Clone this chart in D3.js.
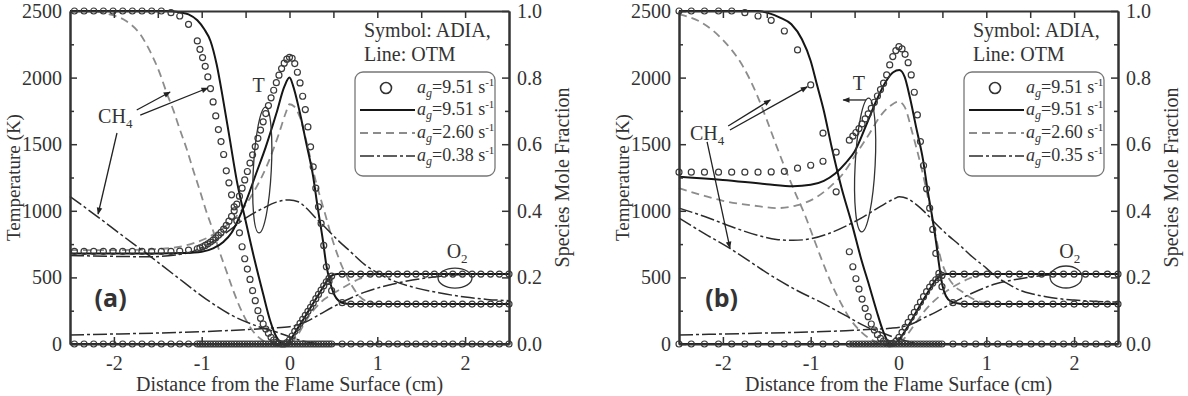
<!DOCTYPE html>
<html>
<head>
<meta charset="utf-8">
<script src="https://cdn.jsdelivr.net/npm/d3@7"></script>
<style>
body { margin: 0; background: #fff; }
svg text { fill: #333; }
</style>
</head>
<body>
<svg id="chart" width="1188" height="396" font-family="'Liberation Serif', 'Times New Roman', serif"></svg>
<script>
// ---- data, panel (a) ----
// ADIA symbols: shared x grid (cm), CH4 / O2 mole fraction, T (K)
var gridA = [-2.45,-2.34,-2.23,-2.12,-2.01,-1.9,-1.79,-1.68,-1.57,-1.46,-1.35,-1.25,-1.15,
  -1.05,-1.02,-0.99,-0.96,-0.93,-0.9,-0.87,-0.84,-0.81,-0.78,-0.75,-0.72,-0.69,-0.66,-0.63,-0.6,
  -0.57,-0.54,-0.51,-0.48,-0.45,-0.42,-0.39,-0.36,-0.33,-0.3,-0.27,-0.24,-0.21,-0.18,-0.15,-0.12,
  -0.09,-0.06,-0.03,0,0.03,0.06,0.09,0.12,0.15,0.18,0.21,0.24,0.27,0.3,0.33,0.36,0.39,0.42,0.45,0.48,
  0.6,0.7,0.81,0.92,1.02,1.13,1.23,1.34,1.44,1.55,1.65,1.76,1.86,1.97,2.08,2.18,2.29,2.39,2.5];
var ch4AdiaA = [1,1,1,1,1,1,1,1,1,1,0.995,0.985,0.96,
  0.91,0.885,0.86,0.834,0.802,0.767,0.727,0.685,0.644,0.608,0.569,0.52,0.484,0.448,0.412,0.37,
  0.334,0.292,0.256,0.225,0.194,0.16,0.13,0.1,0.077,0.06,0.045,0.032,0.02,0.012,0.005,0.002,
  0,0,0,0,0,0,0,0,0,0,0,0,0,0,0,0,0,0,0,0,
  0,0,0,0,0,0,0,0,0,0,0,0,0,0,0,0,0,0,0];
var tAdiaA = [695,695,695,695,695,695,695,695,695,695,695,698,705,
  715,722,730,740,752,765,780,797,816,838,862,890,922,958,1000,1050,
  1110,1170,1232,1295,1358,1420,1482,1544,1606,1668,1730,1790,1848,1905,1962,2018,
  2068,2108,2138,2152,2145,2105,2040,1960,1860,1760,1630,1480,1330,1170,1030,905,740,580,470,400,
  310,300,300,300,300,300,300,300,300,300,300,300,300,300,300,300,300,300,300];
var o2AdiaA = [0,0,0,0,0,0,0,0,0,0,0,0,0,
  0,0,0,0,0,0,0,0,0,0,0,0,0,0,0,0,
  0,0,0,0,0,0,0,0,0,0,0,0,0,0,0,0,
  0,0,0.004,0.012,0.024,0.038,0.05,0.062,0.074,0.086,0.098,0.11,0.123,0.136,0.149,0.162,0.175,0.187,0.197,0.204,
  0.21,0.21,0.21,0.21,0.21,0.21,0.21,0.21,0.21,0.21,0.21,0.21,0.21,0.21,0.21,0.21,0.21,0.21,0.21];

// OTM lines [x cm, value]
var ch4SolidA = [[-2.5,1],[-1.4,1],[-1.25,0.996],[-1.15,0.99],[-1.05,0.972],[-0.97,0.945],[-0.9,0.91],[-0.83,0.84],[-0.76,0.74],[-0.68,0.615],[-0.6,0.49],[-0.5,0.37],[-0.4,0.255],[-0.3,0.15],[-0.22,0.07],[-0.15,0.022],[-0.1,0.005],[-0.05,0],[2.5,0]];
var ch4DashA = [[-2.5,1],[-2.2,0.998],[-2.05,0.99],[-1.86,0.97],[-1.7,0.93],[-1.59,0.88],[-1.48,0.815],[-1.4,0.755],[-1.32,0.7],[-1.25,0.645],[-1.17,0.585],[-1.1,0.525],[-1.02,0.46],[-0.95,0.4],[-0.87,0.34],[-0.8,0.28],[-0.72,0.22],[-0.64,0.16],[-0.53,0.09],[-0.42,0.04],[-0.3,0.01],[-0.2,0],[2.5,0]];
var ch4DashDotA = [[-2.5,0.443],[-2.2,0.385],[-1.9,0.325],[-1.63,0.272],[-1.3,0.205],[-0.95,0.135],[-0.65,0.085],[-0.35,0.052],[-0.15,0.036],[0,0.022],[0.15,0.009],[0.3,0.002],[0.45,0],[2.5,0]];
var tSolidA = [[-2.5,680],[-1.5,680],[-1.2,683],[-1.0,693],[-0.87,718],[-0.75,768],[-0.66,835],[-0.59,925],[-0.49,1080],[-0.38,1280],[-0.27,1480],[-0.15,1730],[-0.06,1930],[0,2000],[0.04,1940],[0.11,1760],[0.19,1510],[0.27,1255],[0.32,1030],[0.38,780],[0.42,590],[0.46,470],[0.5,385],[0.57,320],[0.65,303],[0.8,300],[2.5,300]];
var tDashA = [[-2.5,705],[-2.0,705],[-1.6,710],[-1.3,725],[-1.1,755],[-0.9,810],[-0.7,900],[-0.55,1000],[-0.4,1150],[-0.25,1350],[-0.12,1580],[-0.04,1740],[0,1800],[0.05,1785],[0.12,1700],[0.2,1500],[0.3,1220],[0.4,990],[0.5,760],[0.6,580],[0.7,450],[0.8,355],[0.9,315],[1.0,303],[1.2,300],[2.5,300]];
var tDashDotA = [[-2.5,665],[-2.0,658],[-1.6,655],[-1.3,668],[-1.1,695],[-0.87,770],[-0.7,845],[-0.5,945],[-0.3,1020],[-0.15,1065],[0,1082],[0.1,1068],[0.2,1015],[0.3,945],[0.4,880],[0.55,780],[0.7,690],[0.85,600],[1.0,535],[1.2,470],[1.4,428],[1.7,385],[2.0,352],[2.25,335],[2.5,325]];
var o2SolidA = [[-2.5,0],[-0.06,0],[0,0.01],[0.1,0.05],[0.2,0.092],[0.3,0.135],[0.4,0.178],[0.45,0.198],[0.5,0.208],[0.55,0.21],[2.5,0.21]];
var o2DashA = [[-2.5,0],[0,0],[0.05,0.012],[0.1,0.03],[0.2,0.075],[0.3,0.11],[0.4,0.135],[0.5,0.152],[0.6,0.168],[0.7,0.183],[0.8,0.196],[0.9,0.205],[1.0,0.21],[2.5,0.21]];
var o2DashDotA = [[-2.5,0.027],[-2.0,0.03],[-1.5,0.033],[-1.0,0.037],[-0.5,0.043],[-0.2,0.048],[0,0.052],[0.1,0.058],[0.2,0.068],[0.35,0.09],[0.5,0.112],[0.65,0.132],[0.85,0.155],[1.1,0.175],[1.4,0.192],[1.7,0.203],[2.0,0.209],[2.5,0.21]];
var ratesA = ["9.51", "9.51", "2.60", "0.38"];

// ---- data, panel (b) ----
var gridB = [-2.5,-2.36,-2.21,-2.05,-1.9,-1.75,-1.6,-1.45,-1.3,-1.15,-1.0,-0.86,-0.71,-0.56,
  -0.52,-0.485,-0.45,-0.415,-0.38,-0.345,-0.31,-0.275,-0.24,-0.205,-0.17,-0.135,-0.1,-0.065,-0.03,
  0.005,0.04,0.075,0.11,0.145,0.18,0.215,0.25,0.285,0.32,0.355,0.39,0.425,0.46,0.495,
  0.62,0.75,0.88,1.01,1.13,1.26,1.38,1.51,1.63,1.76,1.88,2.0,2.13,2.25,2.38,2.5];
var ch4AdiaB = [1,1,1,1,1,0.995,0.985,0.972,0.94,0.883,0.778,0.633,0.457,0.277,
  0.232,0.196,0.165,0.135,0.107,0.082,0.06,0.042,0.028,0.017,0.009,0.004,0.001,0,0,
  0,0,0,0,0,0,0,0,0,0,0,0,0,0,0,
  0,0,0,0,0,0,0,0,0,0,0,0,0,0,0,0];
var tAdiaB = [1290,1290,1290,1290,1290,1290,1290,1292,1296,1320,1342,1372,1440,1530,
  1560,1588,1617,1652,1690,1728,1769,1815,1862,1910,1958,2020,2095,2158,2203,
  2232,2215,2175,2112,2020,1890,1720,1520,1340,1165,1020,860,680,530,430,
  310,300,300,300,300,300,300,300,300,300,300,300,300,300,300,300];
var o2AdiaB = [0,0,0,0,0,0,0,0,0,0,0,0,0,0,
  0,0,0,0,0,0,0,0,0,0,0,0,0,0.002,0.008,
  0.02,0.035,0.05,0.065,0.08,0.095,0.11,0.126,0.142,0.157,0.171,0.183,0.193,0.2,0.206,
  0.21,0.21,0.21,0.21,0.21,0.21,0.21,0.21,0.21,0.21,0.21,0.21,0.21,0.21,0.21,0.21];

var ch4SolidB = [[-2.5,1],[-1.6,1],[-1.47,0.993],[-1.35,0.98],[-1.22,0.96],[-1.1,0.915],[-1.0,0.85],[-0.93,0.78],[-0.85,0.7],[-0.76,0.59],[-0.65,0.47],[-0.53,0.36],[-0.43,0.26],[-0.33,0.172],[-0.25,0.1],[-0.18,0.042],[-0.12,0.008],[-0.06,0],[2.5,0]];
var ch4DashB = [[-2.5,0.99],[-2.26,0.968],[-2.0,0.913],[-1.77,0.833],[-1.62,0.753],[-1.5,0.673],[-1.39,0.595],[-1.28,0.52],[-1.17,0.45],[-1.07,0.39],[-0.97,0.32],[-0.87,0.25],[-0.77,0.185],[-0.66,0.125],[-0.55,0.075],[-0.42,0.035],[-0.3,0.012],[-0.18,0],[2.5,0]];
var ch4DashDotB = [[-2.5,0.378],[-2.2,0.33],[-1.92,0.287],[-1.65,0.24],[-1.43,0.202],[-1.15,0.16],[-0.86,0.122],[-0.6,0.085],[-0.37,0.052],[-0.2,0.035],[-0.05,0.02],[0.1,0.008],[0.25,0],[2.5,0]];
var tSolidB = [[-2.5,1255],[-2.0,1232],[-1.5,1200],[-1.2,1185],[-1.0,1195],[-0.85,1225],[-0.72,1280],[-0.6,1360],[-0.5,1445],[-0.37,1640],[-0.25,1830],[-0.14,1975],[-0.06,2040],[0.01,2057],[0.07,2005],[0.13,1850],[0.2,1630],[0.28,1380],[0.33,1160],[0.39,930],[0.43,755],[0.46,605],[0.5,440],[0.54,360],[0.6,318],[0.7,303],[0.8,300],[2.5,300]];
var tDashB = [[-2.5,1170],[-2.2,1110],[-2.0,1075],[-1.6,1035],[-1.39,1020],[-1.16,1040],[-0.94,1100],[-0.78,1180],[-0.63,1280],[-0.48,1430],[-0.33,1580],[-0.22,1700],[-0.1,1785],[0,1820],[0.07,1780],[0.16,1580],[0.24,1380],[0.31,1180],[0.37,985],[0.43,790],[0.49,620],[0.55,520],[0.63,440],[0.73,390],[0.83,345],[0.92,320],[1.0,308],[1.15,300],[2.5,300]];
var tDashDotB = [[-2.5,1020],[-2.2,955],[-1.9,880],[-1.6,815],[-1.39,785],[-1.2,778],[-1.0,790],[-0.8,828],[-0.6,885],[-0.4,955],[-0.2,1035],[-0.05,1090],[0.01,1105],[0.1,1092],[0.2,1048],[0.3,990],[0.4,920],[0.54,830],[0.7,740],[0.84,655],[1.0,570],[1.11,506],[1.25,450],[1.38,405],[1.53,375],[1.68,355],[1.83,340],[2.0,330],[2.25,320],[2.5,315]];
var o2SolidB = [[-2.5,0],[-0.06,0],[0,0.012],[0.1,0.05],[0.2,0.095],[0.3,0.14],[0.38,0.175],[0.45,0.2],[0.5,0.208],[0.55,0.21],[2.5,0.21]];
var o2DashB = [[-2.5,0],[-0.02,0],[0.05,0.012],[0.1,0.028],[0.2,0.065],[0.3,0.1],[0.4,0.128],[0.5,0.15],[0.6,0.168],[0.7,0.183],[0.8,0.196],[0.9,0.205],[1.0,0.21],[2.5,0.21]];
var o2DashDotB = [[-2.5,0.027],[-2.0,0.03],[-1.5,0.033],[-1.0,0.036],[-0.6,0.04],[-0.3,0.044],[-0.1,0.047],[0.05,0.052],[0.15,0.06],[0.3,0.08],[0.42,0.095],[0.54,0.112],[0.7,0.135],[0.92,0.162],[1.1,0.18],[1.3,0.192],[1.5,0.201],[1.7,0.207],[2.0,0.21],[2.5,0.21]];
var ratesB = ["9.51", "9.51", "2.60", "0.35"];

var tTicks = [0, 500, 1000, 1500, 2000, 2500];
var fTicks = [0, 0.2, 0.4, 0.6, 0.8, 1.0];
var xTicks = [-2, -1, 0, 1, 2];

// ---- layout ----
var TOP = 11, BOTTOM = 344;
var svg = d3.select("#chart");

svg.append("defs").append("marker")
  .attr("id", "arrow")
  .attr("viewBox", "0 0 10 10")
  .attr("refX", 9).attr("refY", 5)
  .attr("markerWidth", 8).attr("markerHeight", 7)
  .attr("markerUnits", "userSpaceOnUse")
  .attr("orient", "auto")
  .append("path").attr("d", "M0,1L10,5L0,9z").attr("fill", "#222");

var styles = {
  dash: { stroke: "#8c8c8c", width: 1.8, dash: "8,5" },
  dashdot: { stroke: "#2b2b2b", width: 1.5, dash: "14,3,3,3" },
  solid: { stroke: "#161616", width: 2, dash: null }
};

function subText(sel, x, y, main, sub, size) {
  var t = sel.append("text").attr("x", x).attr("y", y).attr("font-size", size);
  t.append("tspan").text(main);
  t.append("tspan").attr("dy", 5).attr("font-size", size * 0.65).text(sub);
  return t;
}

function drawPanel(p) {
  var x = d3.scaleLinear().domain([-2.5, 2.5]).range([p.left, p.right]);
  var yT = d3.scaleLinear().domain([0, 2500]).range([BOTTOM, TOP]);
  var yF = d3.scaleLinear().domain([0, 1]).range([BOTTOM, TOP]);
  var g = svg.append("g");

  var lineT = d3.line().x(d => x(d[0])).y(d => yT(d[1])).curve(d3.curveMonotoneX);
  var lineF = d3.line().x(d => x(d[0])).y(d => yF(d[1])).curve(d3.curveMonotoneX);

  // OTM curves, dashed first, solid on top
  ["dash", "dashdot", "solid"].forEach(function(k) {
    var s = styles[k];
    [[lineF, p.ch4[k]], [lineT, p.t[k]], [lineF, p.o2[k]]].forEach(function(c) {
      g.append("path")
        .attr("d", c[0](c[1]))
        .attr("fill", "none")
        .attr("stroke", s.stroke)
        .attr("stroke-width", s.width)
        .attr("stroke-dasharray", s.dash);
    });
  });

  // ADIA symbols
  [[yF, p.ch4Adia], [yT, p.tAdia], [yF, p.o2Adia]].forEach(function(s) {
    g.append("g").selectAll("circle")
      .data(d3.zip(p.grid, s[1]))
      .join("circle")
      .attr("cx", d => x(d[0]))
      .attr("cy", d => s[0](d[1]))
      .attr("r", 3)
      .attr("fill", "none")
      .attr("stroke", "#3a3a3a")
      .attr("stroke-width", 1.2);
  });

  // axes
  function styleAxis(a) {
    a.attr("font-family", null).attr("font-size", 20);
    a.select(".domain").attr("stroke", "#333").attr("stroke-width", 2);
    a.selectAll(".tick line").attr("stroke", "#333").attr("stroke-width", 1.5);
    a.selectAll(".tick text").attr("fill", "#333");
  }
  g.append("g").attr("transform", `translate(${p.left},0)`)
    .call(d3.axisLeft(yT).tickValues(tTicks).tickSize(-7).tickSizeOuter(0).tickPadding(8).tickFormat(d3.format("d")))
    .call(styleAxis);
  g.append("g").attr("transform", `translate(${p.left},0)`)
    .call(d3.axisLeft(yT).tickValues([250, 750, 1250, 1750, 2250]).tickSize(-4).tickSizeOuter(0).tickFormat(""))
    .call(styleAxis);
  g.append("g").attr("transform", `translate(${p.right},0)`)
    .call(d3.axisRight(yF).tickValues(fTicks).tickSize(-7).tickSizeOuter(0).tickPadding(8).tickFormat(d3.format(".1f")))
    .call(styleAxis);
  g.append("g").attr("transform", `translate(${p.right},0)`)
    .call(d3.axisRight(yF).tickValues([0.1, 0.3, 0.5, 0.7, 0.9]).tickSize(-4).tickSizeOuter(0).tickFormat(""))
    .call(styleAxis);
  g.append("g").attr("transform", `translate(0,${BOTTOM})`)
    .call(d3.axisBottom(x).tickValues(xTicks).tickSize(-7).tickSizeOuter(0).tickPadding(12)
      .tickFormat(d => (d < 0 ? "-" + Math.abs(d) : d)))
    .call(styleAxis);
  g.append("g").attr("transform", `translate(0,${TOP})`)
    .call(d3.axisTop(x).tickValues([-2, -1.5, -1, -0.5, 0, 0.5, 1, 1.5, 2]).tickSize(-7).tickSizeOuter(0).tickFormat(""))
    .call(styleAxis);

  // axis titles
  var midY = (TOP + BOTTOM) / 2;
  g.append("text")
    .attr("transform", `translate(${p.left - 50},${midY}) rotate(-90)`)
    .attr("text-anchor", "middle").attr("font-size", 19)
    .text("Temperature (K)");
  g.append("text")
    .attr("transform", `translate(${p.right + 60},${midY}) rotate(-90)`)
    .attr("text-anchor", "middle").attr("font-size", 20)
    .text("Species Mole Fraction");
  g.append("text")
    .attr("x", (p.left + p.right) / 2).attr("y", 391)
    .attr("text-anchor", "middle").attr("font-size", 20)
    .text("Distance from the Flame Surface (cm)");

  // legend
  var lx = p.left;
  g.append("text").attr("x", lx + 294).attr("y", 37).attr("font-size", 20).text("Symbol: ADIA,");
  g.append("text").attr("x", lx + 294).attr("y", 61).attr("font-size", 20).text("Line: OTM");
  g.append("rect")
    .attr("x", lx + 285).attr("y", 72).attr("width", 140).attr("height", 104)
    .attr("rx", 8).attr("fill", "#fff").attr("stroke", "#777").attr("stroke-width", 1.3);
  var rowY = [88, 110, 133, 156];
  var rowKind = [null, "solid", "dash", "dashdot"];
  rowY.forEach(function(ry, i) {
    if (i === 0) {
      g.append("circle").attr("cx", lx + 316).attr("cy", ry).attr("r", 5.5)
        .attr("fill", "none").attr("stroke", "#333").attr("stroke-width", 1.6);
    } else {
      var s = styles[rowKind[i]];
      g.append("line").attr("x1", lx + 290).attr("x2", lx + 345).attr("y1", ry).attr("y2", ry)
        .attr("stroke", s.stroke).attr("stroke-width", s.width).attr("stroke-dasharray", s.dash);
    }
    var t = g.append("text").attr("x", lx + 347).attr("y", ry + 5).attr("font-size", 18);
    t.append("tspan").attr("font-style", "italic").text("a");
    t.append("tspan").attr("font-style", "italic").attr("font-size", 12).attr("dy", 4).text("g");
    t.append("tspan").attr("dy", -4).text("=" + p.rates[i] + " s");
    t.append("tspan").attr("font-size", 11).attr("dy", -7).text("-1");
  });

  // annotations (data coords)
  var an = p.notes;
  subText(g, x(an.ch4[0]), yT(an.ch4[1]), "CH", "4", 20);
  an.arrows.forEach(function(a) {
    g.append("line")
      .attr("x1", x(a[0])).attr("y1", yT(a[1]))
      .attr("x2", x(a[2])).attr("y2", yT(a[3]))
      .attr("stroke", "#222").attr("stroke-width", 1.3)
      .attr("marker-end", "url(#arrow)");
  });
  g.append("text").attr("x", x(an.tLabel[0])).attr("y", yT(an.tLabel[1])).attr("font-size", 20).text("T");
  g.append("ellipse")
    .attr("transform", `translate(${x(an.tEll[0])},${yT(an.tEll[1])}) rotate(3)`)
    .attr("rx", an.tEll[2]).attr("ry", an.tEll[3])
    .attr("fill", "none").attr("stroke", "#333").attr("stroke-width", 1.3);
  subText(g, x(an.o2[0]), yT(an.o2[1]), "O", "2", 20);
  g.append("ellipse")
    .attr("cx", x(an.o2Ell[0])).attr("cy", yT(an.o2Ell[1]))
    .attr("rx", an.o2Ell[2]).attr("ry", an.o2Ell[3])
    .attr("fill", "none").attr("stroke", "#333").attr("stroke-width", 1.3);
  g.append("text")
    .attr("x", x(an.tag[0])).attr("y", yT(an.tag[1]))
    .attr("font-family", "'Open Sans', 'DejaVu Sans', sans-serif")
    .attr("font-weight", "bold").attr("font-size", 25).attr("fill", "#111")
    .text(an.tag[2]);
}

drawPanel({
  left: 70, right: 509, grid: gridA,
  ch4Adia: ch4AdiaA, tAdia: tAdiaA, o2Adia: o2AdiaA,
  ch4: { solid: ch4SolidA, dash: ch4DashA, dashdot: ch4DashDotA },
  t: { solid: tSolidA, dash: tDashA, dashdot: tDashDotA },
  o2: { solid: o2SolidA, dash: o2DashA, dashdot: o2DashDotA },
  rates: ratesA,
  notes: {
    ch4: [-2.18, 1659],
    arrows: [[-1.74, 1757, -1.36, 1892], [-1.7, 1719, -0.93, 1922], [-1.965, 1584, -2.18, 976]],
    tLabel: [-0.42, 1892],
    tEll: [-0.31, 1306, 9, 63],
    o2: [1.79, 646],
    o2Ell: [1.885, 495, 17, 10],
    tag: [-2.22, 278, "(a)"]
  }
});

drawPanel({
  left: 679, right: 1118, grid: gridB,
  ch4Adia: ch4AdiaB, tAdia: tAdiaB, o2Adia: o2AdiaB,
  ch4: { solid: ch4SolidB, dash: ch4DashB, dashdot: ch4DashDotB },
  t: { solid: tSolidB, dash: tDashB, dashdot: tDashDotB },
  o2: { solid: o2SolidB, dash: o2DashB, dashdot: o2DashDotB },
  rates: ratesB,
  notes: {
    ch4: [-2.375, 1532],
    arrows: [[-1.94, 1637, -1.46, 1832], [-1.92, 1607, -1.04, 1930], [-2.18, 1517, -1.92, 721], [-0.37, 1832, -0.63, 1832]],
    tLabel: [-0.52, 1907],
    tEll: [-0.38, 1344, 10, 67],
    o2: [1.83, 646],
    o2Ell: [1.908, 503, 16, 11],
    tag: [-2.2, 278, "(b)"]
  }
});
</script>
</body>
</html>
